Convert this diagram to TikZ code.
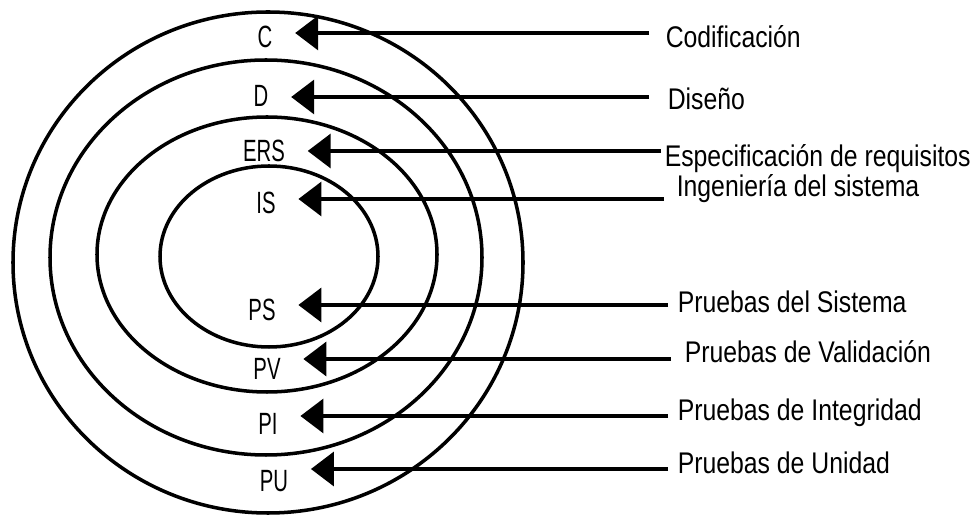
\documentclass[tikz,border=0pt]{standalone}
\usepackage{fontspec}
\setmainfont{Liberation Sans}[FakeStretch=0.83]
\newfontfamily\narrowfont{Liberation Sans}[FakeStretch=0.66]
\usetikzlibrary{arrows.meta}

\begin{document}
\begin{tikzpicture}[x=0.02cm, y=-0.02cm, line width=2pt, >={Triangle[length=0.46cm, width=0.68cm]},
    lab/.style={font=\narrowfont\fontsize{17.5}{20}\selectfont, inner xsep=12pt, inner ysep=0pt},
    desc/.style={font=\fontsize{17}{20}\selectfont, anchor=base west, inner sep=0pt}]
                \useasboundingbox (0,0) rectangle (977,516);
                
                % rings
                \draw (268,262.5) ellipse [x radius=255, y radius=250.5];
                \draw (266,257.5) ellipse [x radius=216, y radius=197.5];
                \draw (267,254.5) ellipse [x radius=170, y radius=137.5];
                \draw (269,256.5) ellipse [x radius=109, y radius=90.5];
                
                % phases inside the rings
                \node[lab] (C) at (265,37) {C};
                \node[lab] (D) at (261,96) {D};
                \node[lab] (ERS) at (264,151) {ERS};
                \node[lab] (IS) at (266,203) {IS};
                \node[lab] (PS) at (262,310) {PS};
                \node[lab] (PV) at (267,369) {PV};
                \node[lab] (PI) at (268,424) {PI};
                \node[lab] (PU) at (274,481) {PU};
                
                % line ends on the right
                \coordinate (eC) at (649,33);
                \coordinate (eD) at (649,97);
                \coordinate (eERS) at (661,151);
                \coordinate (eIS) at (664,199);
                \coordinate (ePS) at (668,305);
                \coordinate (ePV) at (671,359);
                \coordinate (ePI) at (668,416);
                \coordinate (ePU) at (668,469);
                
                \node[desc] (cod) at (664,48) {Codificación};
                \node[desc] (dis) at (666,110) {Diseño};
                \node[desc] (esp) at (663,167) {Especificación de requisitos};
                \node[desc] (ing) at (675,197) {Ingeniería del sistema};
                \node[desc] (pds) at (676,313) {Pruebas del Sistema};
                \node[desc] (pdv) at (683,363) {Pruebas de Validación};
                \node[desc] (pdi) at (676,421) {Pruebas de Integridad};
                \node[desc] (pdu) at (676,474) {Pruebas de Unidad};
                
                \draw[->] (eC) -- (eC -| C.east);
                \draw[->] (eD) -- (eD -| D.east);
                \draw[->] (eERS) -- (eERS -| ERS.east);
                \draw[->] (eIS) -- (eIS -| IS.east);
                \draw[->] (ePS) -- (ePS -| PS.east);
                \draw[->] (ePV) -- (ePV -| PV.east);
                \draw[->] (ePI) -- (ePI -| PI.east);
                \draw[->] (ePU) -- (ePU -| PU.east);
            \end{tikzpicture}
\end{document}
